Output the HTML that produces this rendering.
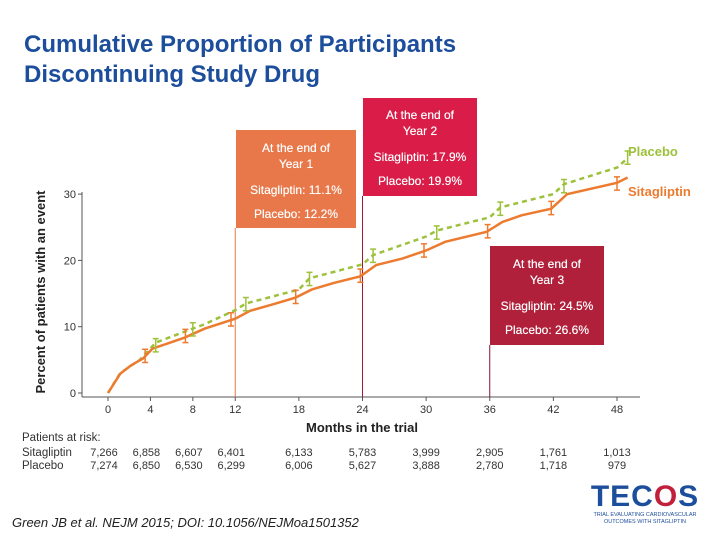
<!DOCTYPE html>
<html><head><meta charset="utf-8"><style>
body{margin:0;width:720px;height:540px;background:#fff;overflow:hidden;font-family:"Liberation Sans",sans-serif;position:relative}
.title{position:absolute;left:24px;top:30px;color:#1c4e9c;font-weight:bold;font-size:24px;line-height:30px}
.box{position:absolute;color:#fff;font-size:12px;text-align:center;line-height:16px;text-shadow:0 0 0.4px #fff}
.tbl{position:absolute;font-size:11.5px;color:#333}
</style></head><body>
<div class="title">Cumulative Proportion of Participants<br>Discontinuing Study Drug</div>
<svg id="chart" width="720" height="540" style="position:absolute;left:0;top:0"></svg>
<div class="box" style="left:236px;top:130px;width:120px;height:98px;background:#e8784a;"><div style="margin-top:10px">At the end of<br>Year 1</div><div style="margin-top:10px">Sitagliptin: 11.1%</div><div style="margin-top:8px">Placebo: 12.2%</div></div>
<div class="box" style="left:363px;top:98px;width:114px;height:98px;background:#d91d48;"><div style="margin-top:9px">At the end of<br>Year 2</div><div style="margin-top:10px">Sitagliptin: 17.9%</div><div style="margin-top:8px">Placebo: 19.9%</div></div>
<div class="box" style="left:490px;top:246px;width:114px;height:99px;background:#b0203a;"><div style="margin-top:10px">At the end of<br>Year 3</div><div style="margin-top:10px">Sitagliptin: 24.5%</div><div style="margin-top:8px">Placebo: 26.6%</div></div>
<div class="tbl" style="left:22px;top:432px">Patients at risk:</div>
<div class="tbl" style="left:22px;top:447px">Sitagliptin</div>
<div class="tbl" style="left:22px;top:460px">Placebo</div>
<div style="position:absolute;left:12px;top:515px;font-size:13px;font-style:italic;color:#222">Green JB et al. NEJM 2015; DOI: 10.1056/NEJMoa1501352</div>
<div style="position:absolute;left:590px;top:482px;width:110px;text-align:center">
<div style="font-size:30px;font-weight:bold;color:#1c4e9c;letter-spacing:1px;line-height:30px">TEC<span style="color:#c0203a">O</span>S</div>
<div style="font-size:5.5px;color:#1c4e9c;line-height:7px;white-space:nowrap">TRIAL EVALUATING CARDIOVASCULAR<br>OUTCOMES WITH SITAGLIPTIN</div></div>
<script>
const xTicks=[0,4,8,12,18,24,30,36,42,48];
const yTicks=[0,10,20,30];
const sitaMonths=[0,1.15,2.2,3.3,4.2,5.5,7.3,9.1,12,13.4,15.6,17.7,19.2,21.3,23.8,25.3,27.8,30,31.8,35.7,37.2,39,41.8,43.3,48,49];
const sitaValues=[0,2.9,4.2,5.2,6.7,7.4,8.4,9.7,11.2,12.4,13.4,14.4,15.6,16.6,17.6,19.3,20.3,21.5,22.8,24.3,25.8,26.8,27.8,30,31.7,32.5];
const placMonths=[0,1.15,3,4.5,7.3,9,12,13,18,19,24,25,30,31,36,37,42,43,48,49];
const placValues=[0,3,5,7.6,9.3,10.3,12.5,13.5,15.6,17.3,19.4,20.8,23.6,24.5,26.5,28,30,31.5,34,35.4];
const sitaErrMonths=[3.5,7.3,11.6,17.7,23.8,29.8,35.8,41.8,48];
const sitaErrValues=[5.6,8.6,11.1,14.5,17.7,21.5,24.4,27.9,31.6];
const placErrMonths=[4.5,8,13,19,25,31,37,43,49];
const placErrValues=[7.2,9.6,13.4,17.2,20.7,24.2,27.8,31.2,35.5];
const riskSita=["7,266","6,858","6,607","6,401","6,133","5,783","3,999","2,905","1,761","1,013"];
const riskPlac=["7,274","6,850","6,530","6,299","6,006","5,627","3,888","2,780","1,718","979"];
const X=m=>108+m*(509/48), Y=v=>393-v*6.63;
const svg=document.getElementById('chart'),NS='http://www.w3.org/2000/svg';
function mk(t,a,p){const e=document.createElementNS(NS,t);for(const k in a)e.setAttribute(k,a[k]);(p||svg).appendChild(e);return e;}
let e;
e=mk('line',{x1:82,y1:192,x2:82,y2:397,stroke:'#555','stroke-width':1});


e=mk('line',{x1:82,y1:397,x2:640,y2:397,stroke:'#555','stroke-width':1});


yTicks.forEach(v=>{mk('line',{x1:78,y1:Y(v),x2:82,y2:Y(v),stroke:'#555'});
 e=mk('text',{x:76,y:Y(v)+4,'text-anchor':'end','font-size':11,fill:'#333'});e.textContent=v;
 
 });
xTicks.forEach((m,i)=>{mk('line',{x1:X(m),y1:397,x2:X(m),y2:401,stroke:'#555'});
 e=mk('text',{x:X(m),y:413,'text-anchor':'middle','font-size':11,fill:'#333'});e.textContent=m;
 
 
 e=mk('text',{x:X(m)+ (i<4?-4:0),y:456,'text-anchor':'middle','font-size':11,fill:'#333'});e.textContent=riskSita[i];
 
 
 e=mk('text',{x:X(m)+ (i<4?-4:0),y:469,'text-anchor':'middle','font-size':11,fill:'#333'});e.textContent=riskPlac[i];
 
 });
e=mk('text',{x:362,y:432,'text-anchor':'middle','font-size':13,'font-weight':'bold',fill:'#222'});e.textContent='Months in the trial';


e=mk('text',{x:0,y:0,'text-anchor':'middle','font-size':13,'font-weight':'bold',fill:'#222',transform:'translate(45,292) rotate(-90)'});e.textContent='Percent of patients with an event';


[[12,'#e8784a',228],[24,'#a01838',196],[36,'#801830',345]].forEach(d=>{e=mk('line',{x1:X(d[0]),y1:d[2],x2:X(d[0]),y2:397,stroke:d[1],'stroke-width':1});
 
 });
function pts(ms,vs){return ms.map((m,i)=>X(m)+','+Y(vs[i])).join(' ');}
e=mk('polyline',{points:pts(placMonths,placValues),fill:'none',stroke:'#9dc13a','stroke-width':2.5,'stroke-dasharray':'5,4'});


e=mk('polyline',{points:pts(sitaMonths,sitaValues),fill:'none',stroke:'#ec7b30','stroke-width':2.5});


function errs(ms,vs,c,n){ms.forEach((m,i)=>{const g=mk('g',{stroke:c,'stroke-width':1.5});
 
 
 const x=X(m),y1=Y(vs[i]+1),y2=Y(vs[i]-1);
 mk('line',{x1:x,y1:y1,x2:x,y2:y2},g);mk('line',{x1:x-3,y1:y1,x2:x+3,y2:y1},g);mk('line',{x1:x-3,y1:y2,x2:x+3,y2:y2},g);});}
errs(placErrMonths,placErrValues,'#9dc13a','placebo-error-bar');
errs(sitaErrMonths,sitaErrValues,'#ec7b30','sitagliptin-error-bar');
e=mk('text',{x:628,y:156,'font-size':13,'font-weight':'bold',fill:'#9dc13a'});e.textContent='Placebo';


e=mk('text',{x:628,y:196,'font-size':13,'font-weight':'bold',fill:'#ec7b30'});e.textContent='Sitagliptin';


</script>
</body></html>
